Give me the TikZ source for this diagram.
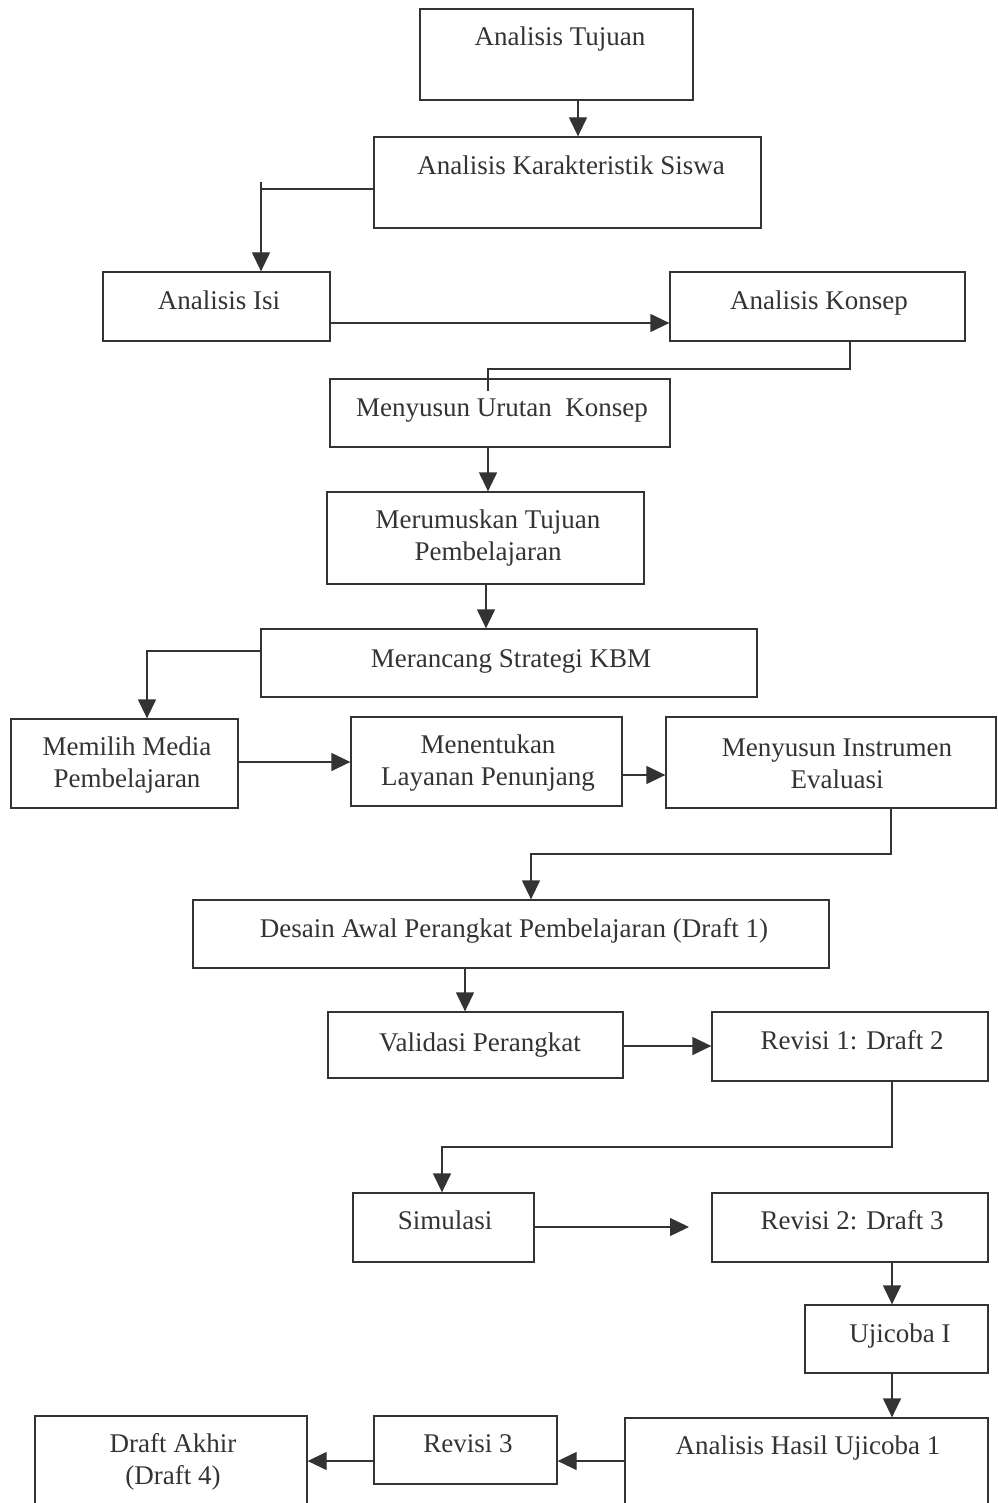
\documentclass[tikz,border=0pt]{standalone}
\usepackage{fontspec}
\setmainfont{Liberation Serif}
\usetikzlibrary{arrows.meta,fit}
\definecolor{ink}{HTML}{333333}
\tikzset{
  bx/.style={draw=ink, line width=1.3pt, inner sep=0pt},
  lbl/.style={text=ink, font=\fontsize{27}{32}\selectfont, align=center, inner sep=0pt},
  one/.style={lbl, text height=18pt, text depth=0pt},
  conn/.style={draw=ink, line width=1.3pt},
  arr/.style={conn, -{Triangle[length=19pt,width=18pt]}},
}
\begin{document}
\begin{tikzpicture}[x=1pt,y=-1pt]
\useasboundingbox (0,0) rectangle (997,1503);
% boxes
\node[bx, fit={(420,9)(693,100)}] (b1) {};
\node[bx, fit={(374,137)(761,228)}] (b2) {};
\node[bx, fit={(103,272)(330,341)}] (b3) {};
\node[bx, fit={(670,272)(965,341)}] (b4) {};
\node[bx, fit={(330,379)(670,447)}] (b5) {};
\node[bx, fit={(327,492)(644,584)}] (b6) {};
\node[bx, fit={(261,629)(757,697)}] (b7) {};
\node[bx, fit={(11,719)(238,808)}] (b8) {};
\node[bx, fit={(351,717)(622,806)}] (b9) {};
\node[bx, fit={(666,717)(996,808)}] (b10) {};
\node[bx, fit={(193,900)(829,968)}] (b11) {};
\node[bx, fit={(328,1012)(623,1078)}] (b12) {};
\node[bx, fit={(712,1012)(988,1081)}] (b13) {};
\node[bx, fit={(353,1193)(534,1262)}] (b14) {};
\node[bx, fit={(712,1193)(988,1262)}] (b15) {};
\node[bx, fit={(805,1305)(988,1373)}] (b16) {};
\node[bx, fit={(625,1418)(988,1520)}] (b17) {};
\node[bx, fit={(374,1416)(557,1484)}] (b18) {};
\node[bx, fit={(35,1416)(307,1520)}] (b19) {};
% labels
\node[one] (t1) at (560,37) {Analisis Tujuan};
\node[one] (t2) at (571,166) {Analisis Karakteristik Siswa};
\node[one] (t3) at (219,300) {Analisis Isi};
\node[one] (t4) at (819,300) {Analisis Konsep};
\node[one] (t5) at (502,407) {Menyusun Urutan~ Konsep};
\node[lbl] (t6) at (488,538) {Merumuskan Tujuan\\Pembelajaran};
\node[one] (t7) at (511,658) {Merancang Strategi KBM};
\node[lbl] (t8) at (127,765) {Memilih Media\\Pembelajaran};
\node[lbl] (t9) at (488,763) {Menentukan\\Layanan Penunjang};
\node[lbl] (t10) at (837,764) {Menyusun Instrumen\\Evaluasi};
\node[one] (t11) at (514,928) {Desain Awal Perangkat Pembelajaran (Draft 1)};
\node[one] (t12) at (480,1042) {Validasi Perangkat};
\node[one] (t13) at (852,1040) {Revisi 1: Draft 2};
\node[one] (t14) at (445,1220) {Simulasi};
\node[one] (t15) at (852,1220) {Revisi 2: Draft 3};
\node[one] (t16) at (900,1333) {Ujicoba I};
\node[one] (t17) at (808,1445) {Analisis Hasil Ujicoba 1};
\node[one] (t18) at (468,1443) {Revisi 3};
\node[lbl] (t19) at (173,1462) {Draft Akhir\\(Draft 4)};
% connectors
\coordinate (k2) at (261,189);
\coordinate (k14) at (689,1227);
\draw[arr] (578,0 |- b1.south) -- (578,0 |- b2.north);
\draw[arr] (b2.west |- k2) -- (k2) -- (k2 |- b3.north);
\draw[conn] (k2) -- ++(0,-7);
\draw[arr] (b3.east |- 0,323) -- (b4.west |- 0,323);
\draw[conn] (850,0 |- b4.south) -- (850,369) -- (488,369) -- (488,0 |- b5.north) -- ++(0,13);
\draw[arr] (488,0 |- b5.south) -- (488,0 |- b6.north);
\draw[arr] (486,0 |- b6.south) -- (486,0 |- b7.north);
\draw[arr] (b7.west |- 0,651) -| (147,0 |- b8.north);
\draw[arr] (b8.east |- 0,762) -- (b9.west |- 0,762);
\draw[arr] (b9.east |- 0,775) -- (b10.west |- 0,775);
\draw[arr] (891,0 |- b10.south) -- (891,854) -| (531,0 |- b11.north);
\draw[arr] (465,0 |- b11.south) -- (465,0 |- b12.north);
\draw[arr] (b12.east |- 0,1046) -- (b13.west |- 0,1046);
\draw[arr] (892,0 |- b13.south) -- (892,1147) -| (442,0 |- b14.north);
\draw[arr] (b14.east |- k14) -- (k14);
\draw[arr] (892,0 |- b15.south) -- (892,0 |- b16.north);
\draw[arr] (892,0 |- b16.south) -- (892,0 |- b17.north);
\draw[arr] (b17.west |- 0,1461) -- (b18.east |- 0,1461);
\draw[arr] (b18.west |- 0,1461) -- (b19.east |- 0,1461);
\end{tikzpicture}
\end{document}
